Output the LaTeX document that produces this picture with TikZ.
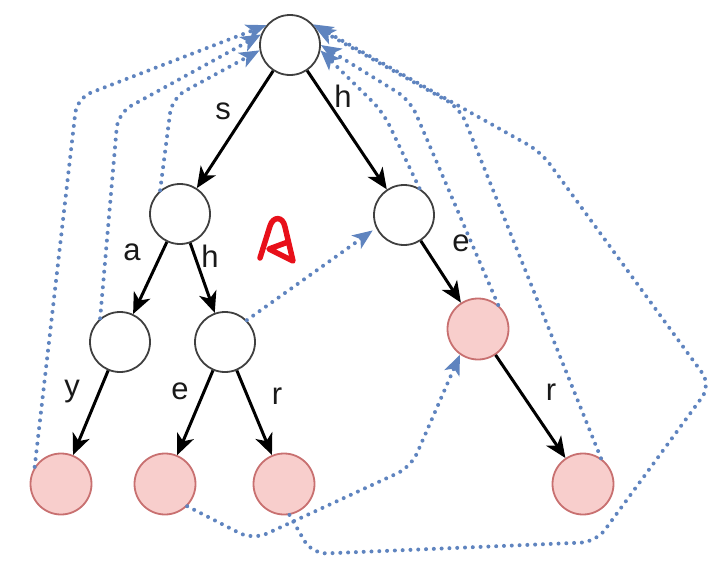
\documentclass[tikz,border=0pt]{standalone}
\usepackage{fontspec}
\setmainfont{Liberation Sans}
\usetikzlibrary{arrows.meta}
\definecolor{dotblue}{HTML}{5F84BF}
\definecolor{pinkfill}{HTML}{F8CECC}
\definecolor{pinkdraw}{HTML}{C87070}
\definecolor{redmark}{HTML}{E8101A}
\begin{document}
\begin{tikzpicture}[x=1pt,y=-1pt,
 wnode/.style={circle,draw=black!75,line width=1.8pt,fill=white,minimum size=60pt,inner sep=0pt},
 pnode/.style={circle,draw=pinkdraw,line width=1.8pt,fill=pinkfill,minimum size=61pt,inner sep=0pt},
 edge/.style={line width=3pt,-{Stealth[length=21pt,width=18pt,inset=6pt]}},
 link/.style={dotblue,line width=4pt,line cap=round,dash pattern=on 0pt off 7.8pt,rounded corners=15pt,-{Stealth[length=20pt,width=16pt,inset=5pt]}},
 lbl/.style={font=\fontsize{31}{31}\selectfont,inner sep=0pt,text=black!90}]
\useasboundingbox (0,0) rectangle (723,570);
% nodes
\node[wnode] (root) at (290,45) {};
\node[wnode] (L1) at (180,214) {};
\node[wnode] (R1) at (404,215) {};
\node[wnode] (na) at (120,342) {};
\node[wnode] (nh) at (225,342) {};
\node[pnode] (pe) at (478,329) {};
\node[pnode] (ly) at (61,484) {};
\node[pnode] (le) at (165,484) {};
\node[pnode] (lr) at (284,484) {};
\node[pnode] (lr2) at (583,484) {};
% dotted links
\draw[link] (ly.147) -- (77,98) -- (root.140);
\draw[link] (na.130) -- (118,113) -- (root.160);
\draw[link] (L1.130) -- (172,98) -- (root.190);
\draw[link] (R1.60) -- (383,112) -- (root.-10);
\draw[link] (pe.50) -- (410,100) -- (root.0);
\draw[link] (lr2.55) -- (460,108) -- (root.35);
\draw[link] (lr.-80) -- (312,554) -- (596,542) -- (711,385) -- (541,152) -- (root.42);
\draw[link] (le.-45) -- (253,540) -- (411,467) -- (pe.-125);
\draw[link,shorten >=4pt] (nh.45) -- (R1.-155);
% tree edges
\draw[edge] (root) -- (L1);
\draw[edge] (root) -- (R1);
\draw[edge] (L1) -- (na);
\draw[edge] (L1) -- (nh);
\draw[edge] (R1) -- (pe);
\draw[edge] (na) -- (ly);
\draw[edge] (nh) -- (le);
\draw[edge] (nh) -- (lr);
\draw[edge] (pe) -- (lr2);
% labels
\node[lbl] (ts) at (223,111) {s};
\node[lbl] (th) at (343,96) {h};
\node[lbl] (ta) at (132,252) {a};
\node[lbl] (th2) at (210,256) {h};
\node[lbl] (te) at (461,243) {e};
\node[lbl] (ty) at (72,392) {y};
\node[lbl] (te2) at (180,391) {e};
\node[lbl] (tr) at (277,396) {r};
\node[lbl] (tr2) at (551,392) {r};
% red mark
\draw[redmark,line width=5.5pt,line cap=round,line join=round]
  (260,258) -- (270,226) .. controls (273,216) and (283,216) .. (285,227)
  -- (293,261) -- (269,249) -- (288,242);
\end{tikzpicture}
\end{document}
